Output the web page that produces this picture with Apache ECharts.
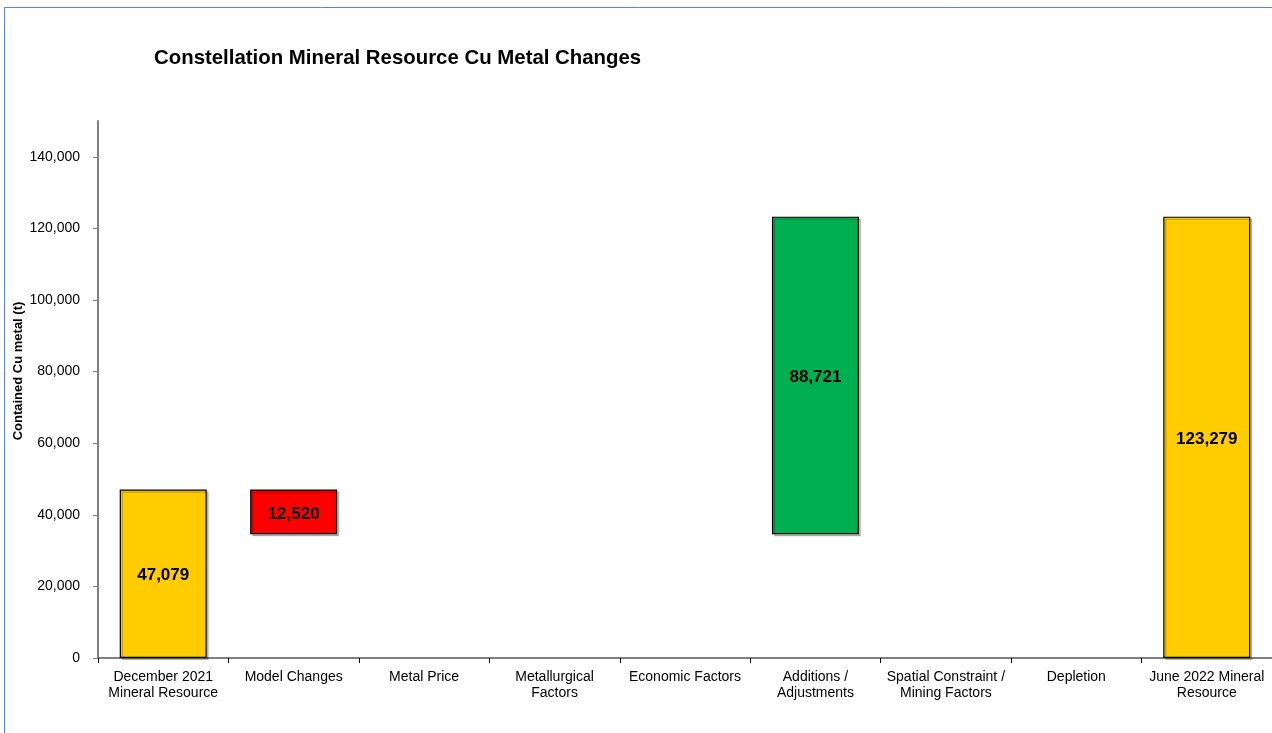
<!DOCTYPE html>
<html>
<head>
<meta charset="utf-8">
<script src="https://cdn.jsdelivr.net/npm/echarts@6/dist/echarts.min.js"></script>
<style>html,body{margin:0;padding:0;background:#fff;}#c{width:1272px;height:733px;}</style>
</head>
<body>
<div id="c"></div>
<script>
const categories = ['December 2021\nMineral Resource', 'Model Changes', 'Metal Price', 'Metallurgical\nFactors', 'Economic Factors', 'Additions /\nAdjustments', 'Spatial Constraint /\nMining Factors', 'Depletion', 'June 2022 Mineral\nResource'];
const startValue = 47079;
const changes = [-12520, 0, 0, 0, 88721, 0, 0]; // Model Changes .. Depletion
const endValue = 123279;
const yTicks = [0, 20000, 40000, 60000, 80000, 100000, 120000, 140000];

const GOLD = '#FFCC00', RED = '#FF0000', GREEN = '#00B050';

// build waterfall base / height arrays
const base = [0];
const height = [{value: startValue, itemStyle: {color: GOLD}}];
let run = startValue;
changes.forEach(c => {
  const lo = c < 0 ? run + c : run;
  base.push(c === 0 ? '-' : lo);
  height.push(c === 0 ? '-' : {value: Math.abs(c), itemStyle: {color: c < 0 ? RED : GREEN}});
  run += c;
});
base.push(0);
height.push({value: endValue, itemStyle: {color: GOLD}});

const chart = echarts.init(document.getElementById('c'), null, {renderer: 'canvas'});
const font = 'Liberation Sans, Arial, sans-serif';
chart.setOption({
  animation: false,
  backgroundColor: '#fff',
  title: {
    text: 'Constellation Mineral Resource Cu Metal Changes',
    left: 149, top: 43,
    textStyle: {fontFamily: font, fontSize: 20.4, fontWeight: 'bold', color: '#000'}
  },
  graphic: [
    {type: 'rect', shape: {x: 4.5, y: 7.5, width: 1400, height: 900}, style: {fill: 'none', stroke: '#5B7FE6', lineWidth: 1}, silent: true},
    {type: 'text', x: 18, y: 371, rotation: Math.PI / 2,
     style: {text: 'Contained Cu metal (t)', font: 'bold 13px ' + font, fill: '#000', textAlign: 'center', textVerticalAlign: 'middle'}}
  ],
  grid: {left: 98, right: -1, top: 121, bottom: 75, containLabel: false},
  xAxis: {
    type: 'category',
    data: categories,
    axisLine: {lineStyle: {color: '#808080', width: 2}},
    axisTick: {show: true, interval: 0, length: 5, lineStyle: {color: '#000', width: 1}},
    axisLabel: {interval: 0, fontFamily: font, fontSize: 14, color: '#000', lineHeight: 16, margin: 11}
  },
  yAxis: {
    type: 'value',
    min: 0, max: 150000, interval: 20000,
    splitLine: {show: false},
    axisLine: {show: true, lineStyle: {color: '#808080', width: 2}},
    axisTick: {show: true, length: 5, inside: false, lineStyle: {color: '#808080'},
      customValues: yTicks},
    axisLabel: {fontFamily: font, fontSize: 14, color: '#000', margin: 18,
      customValues: yTicks,
      formatter: v => v.toLocaleString('en-US')}
  },
  series: [
    {
      type: 'bar', stack: 'w', data: base, barWidth: 87,
      itemStyle: {color: 'transparent'}, silent: true
    },
    {
      type: 'bar', stack: 'w', data: height, barWidth: 87,
      itemStyle: {borderColor: '#000', borderWidth: 1.2, shadowColor: 'rgba(0,0,0,0.22)', shadowOffsetX: 2, shadowOffsetY: 2, shadowBlur: 0},
      label: {show: true, position: 'inside', offset: [0, 2], fontFamily: font, fontSize: 17, fontWeight: 'bold', color: '#000',
        formatter: p => Number(p.value).toLocaleString('en-US')}
    }
  ]
});
</script>
</body>
</html>
